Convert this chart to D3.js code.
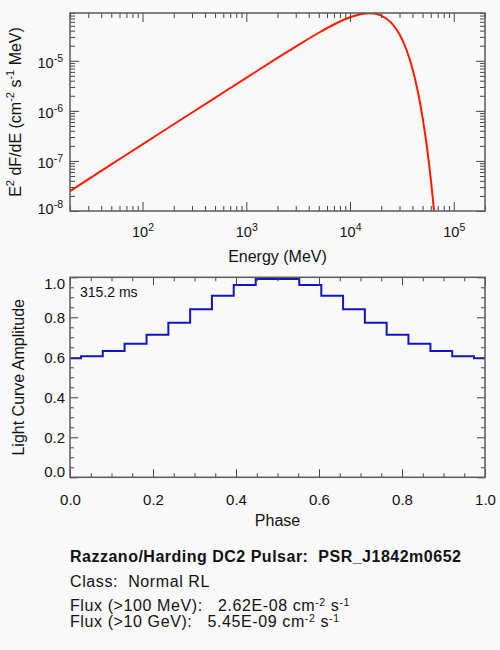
<!DOCTYPE html>
<html>
<head>
<meta charset="utf-8">
<script src="https://cdn.jsdelivr.net/npm/d3@7"></script>
<style>
  body { margin: 0; background: #f9f9f9; }
  text { font-family: "Liberation Sans", Arial, Helvetica, sans-serif; fill: #111; }
</style>
</head>
<body>
<svg id="chart"></svg>
<script>
// Spectrum: E^2 dF/dE
const energy = [20, 50, 100, 200, 500, 1000, 2000, 3000, 5000, 7000, 10000, 13000, 15000,
  17000, 20000, 25000, 30000, 35000, 40000, 45000, 50000, 55000, 60000, 64000, 66000];
const e2dfde = [2.5e-8, 8.5e-8, 2.14e-7, 5.4e-7, 1.82e-6, 4.56e-6, 1.14e-5, 1.92e-5, 3.63e-5,
  5.3e-5, 7.38e-5, 8.62e-5, 8.9e-5, 8.8e-5, 8.0e-5, 5.72e-5, 3.39e-5, 1.66e-5, 6.9e-6,
  2.46e-6, 7.4e-7, 1.95e-7, 4.4e-8, 1.2e-8, 5.9e-9];

const energyTicks = [1e2, 1e3, 1e4, 1e5];
const energyTickExp = ["2", "3", "4", "5"];
const fluxTicks = [1e-8, 1e-7, 1e-6, 1e-5];
const fluxTickExp = ["-8", "-7", "-6", "-5"];
const minorMult = [2, 3, 4, 5, 6, 7, 8, 9];

// Light curve (histogram bins)
const phase = [0.000, 0.053, 0.105, 0.158, 0.211, 0.263, 0.316, 0.368, 0.421, 0.474,
  0.526, 0.579, 0.632, 0.684, 0.737, 0.789, 0.842, 0.895, 0.947, 1.000];
const amplitude = [0.595, 0.605, 0.632, 0.668, 0.713, 0.773, 0.840, 0.908, 0.962, 0.992,
  0.992, 0.962, 0.908, 0.840, 0.773, 0.713, 0.668, 0.632, 0.605, 0.595];

const phaseTicks = [0, 0.2, 0.4, 0.6, 0.8, 1.0];
const ampTicks = [0, 0.2, 0.4, 0.6, 0.8, 1.0];
const periodLabel = "315.2 ms";

const pulsarName = "PSR_J1842m0652";
const pulsarClass = "Normal RL";
const flux100 = "2.62E-08";
const flux10g = "5.45E-09";

const width = 500, height = 650;
const svg = d3.select("#chart").attr("width", width).attr("height", height);
svg.append("rect").attr("width", width).attr("height", height).attr("fill", "#f9f9f9");

const top1 = {l: 70, r: 485, t: 13, b: 211};
const top2 = {l: 70, r: 485, t: 277.3, b: 477.3};

function frame(p) {
  svg.append("rect")
    .attr("x", p.l).attr("y", p.t)
    .attr("width", p.r - p.l).attr("height", p.b - p.t)
    .attr("fill", "none").attr("stroke", "#5a5a5a").attr("stroke-width", 1.5);
}

function styleAxis(g) {
  g.select(".domain").remove();
  g.selectAll(".tick line").attr("stroke", "#444").attr("stroke-width", 1);
  g.selectAll("text").attr("font-family", null).style("fill", "#111");
}

// superscript helper: base text then raised exponent, pixel offsets so it comes back level
function sup(t, txt, size, rise) {
  t.append("tspan").attr("dy", -rise).attr("font-size", size).text(txt);
}
function base(t, txt, rise) {
  t.append("tspan").attr("dy", rise).text(txt);
}

// ---------- spectrum panel ----------
const x1 = d3.scaleLog().domain([20, 2e5]).range([top1.l, top1.r]);
const y1 = d3.scaleLog().domain([1e-8, 9e-5]).range([top1.b, top1.t]);

const xMinor = [10, 100, 1000, 10000, 100000].flatMap(d => minorMult.map(m => m * d))
  .filter(v => v >= 20 && v <= 2e5);
const yMinor = fluxTicks.flatMap(d => minorMult.map(m => m * d)).filter(v => v <= 9e-5);

svg.append("clipPath").attr("id", "clip1").append("rect")
  .attr("x", top1.l).attr("y", top1.t).attr("width", top1.r - top1.l).attr("height", top1.b - top1.t);

svg.append("path")
  .datum(energy.map((e, i) => [e, e2dfde[i]]))
  .attr("clip-path", "url(#clip1)")
  .attr("fill", "none").attr("stroke", "#ff1a00").attr("stroke-width", 2)
  .attr("d", d3.line().x(d => x1(d[0])).y(d => y1(d[1])).curve(d3.curveMonotoneX));

// bottom axis with labels
svg.append("g").attr("transform", `translate(0,${top1.b})`)
  .call(d3.axisBottom(x1).tickValues(energyTicks).tickSize(-9).tickPadding(14).tickFormat(""))
  .call(styleAxis)
  .call(g => g.selectAll(".tick").each(function(d, i) {
    const t = d3.select(this).select("text").attr("font-size", 14.5).attr("dy", "0.85em");
    t.text(null);
    t.append("tspan").text("10");
    sup(t, energyTickExp[i], 10.5, 6);
  }));
svg.append("g").attr("transform", `translate(0,${top1.b})`)
  .call(d3.axisBottom(x1).tickValues(xMinor).tickSize(-5).tickFormat(""))
  .call(styleAxis);
svg.append("g").attr("transform", `translate(0,${top1.t})`)
  .call(d3.axisTop(x1).tickValues(energyTicks).tickSize(-9).tickFormat(""))
  .call(styleAxis);
svg.append("g").attr("transform", `translate(0,${top1.t})`)
  .call(d3.axisTop(x1).tickValues(xMinor).tickSize(-5).tickFormat(""))
  .call(styleAxis);

svg.append("g").attr("transform", `translate(${top1.l},0)`)
  .call(d3.axisLeft(y1).tickValues(fluxTicks).tickSize(-9).tickPadding(7).tickFormat(""))
  .call(styleAxis)
  .call(g => g.selectAll(".tick").each(function(d, i) {
    const t = d3.select(this).select("text").attr("font-size", 14.5)
      .attr("dy", i === 0 ? "0.15em" : "0.45em");
    t.text(null);
    t.append("tspan").text("10");
    sup(t, fluxTickExp[i], 10.5, 6);
  }));
svg.append("g").attr("transform", `translate(${top1.l},0)`)
  .call(d3.axisLeft(y1).tickValues(yMinor).tickSize(-5).tickFormat(""))
  .call(styleAxis);
svg.append("g").attr("transform", `translate(${top1.r},0)`)
  .call(d3.axisRight(y1).tickValues(fluxTicks).tickSize(-9).tickFormat(""))
  .call(styleAxis);
svg.append("g").attr("transform", `translate(${top1.r},0)`)
  .call(d3.axisRight(y1).tickValues(yMinor).tickSize(-5).tickFormat(""))
  .call(styleAxis);
frame(top1);

svg.append("text")
  .attr("x", (top1.l + top1.r) / 2).attr("y", 262)
  .attr("text-anchor", "middle").attr("font-size", 16)
  .text("Energy (MeV)");

const yt = svg.append("text")
  .attr("transform", `translate(21,${(top1.t + top1.b) / 2}) rotate(-90)`)
  .attr("text-anchor", "middle").attr("font-size", 16);
yt.append("tspan").text("E");
sup(yt, "2", 11, 7);
base(yt, " dF/dE (cm", 7);
sup(yt, "-2", 11, 7);
base(yt, " s", 7);
sup(yt, "-1", 11, 7);
base(yt, " MeV)", 7);

// ---------- light curve panel ----------
const x2 = d3.scaleLinear().domain([0, 1]).range([top2.l, top2.r]);
const y2 = d3.scaleLinear().domain([0, 1]).range([top2.b, top2.t]);
const phaseMinor = d3.range(0, 1.0001, 0.05).filter(d => Math.round(d * 100) % 20 !== 0);

svg.append("path")
  .datum(phase.map((p, i) => [p, amplitude[i]]))
  .attr("fill", "none").attr("stroke", "#1414c4").attr("stroke-width", 2)
  .attr("d", d3.line().x(d => x2(d[0])).y(d => y2(d[1])).curve(d3.curveStep));

svg.append("g").attr("transform", `translate(0,${top2.b})`)
  .call(d3.axisBottom(x2).tickValues(phaseTicks).tickSize(-8).tickPadding(17).tickFormat(d3.format(".1f")))
  .call(styleAxis)
  .call(g => g.selectAll("text").attr("font-size", 15));
svg.append("g").attr("transform", `translate(0,${top2.b})`)
  .call(d3.axisBottom(x2).tickValues(phaseMinor).tickSize(-4).tickFormat(""))
  .call(styleAxis);
svg.append("g").attr("transform", `translate(0,${top2.t})`)
  .call(d3.axisTop(x2).tickValues(phaseTicks).tickSize(-8).tickFormat(""))
  .call(styleAxis);
svg.append("g").attr("transform", `translate(0,${top2.t})`)
  .call(d3.axisTop(x2).tickValues(phaseMinor).tickSize(-4).tickFormat(""))
  .call(styleAxis);

svg.append("g").attr("transform", `translate(${top2.l},0)`)
  .call(d3.axisLeft(y2).tickValues(ampTicks).tickSize(-8).tickPadding(5).tickFormat(d3.format(".1f")))
  .call(styleAxis)
  .call(g => g.selectAll("text").attr("font-size", 15)
    .attr("dy", d => d === 0 ? "-0.05em" : d === 1 ? "0.75em" : "0.36em"));
svg.append("g").attr("transform", `translate(${top2.l},0)`)
  .call(d3.axisLeft(y2).tickValues(phaseMinor).tickSize(-4).tickFormat(""))
  .call(styleAxis);
svg.append("g").attr("transform", `translate(${top2.r},0)`)
  .call(d3.axisRight(y2).tickValues(ampTicks).tickSize(-8).tickFormat(""))
  .call(styleAxis);
svg.append("g").attr("transform", `translate(${top2.r},0)`)
  .call(d3.axisRight(y2).tickValues(phaseMinor).tickSize(-4).tickFormat(""))
  .call(styleAxis);
frame(top2);

svg.append("text").attr("x", 80).attr("y", 297).attr("font-size", 14).text(periodLabel);

svg.append("text")
  .attr("x", (top2.l + top2.r) / 2).attr("y", 526)
  .attr("text-anchor", "middle").attr("font-size", 16)
  .text("Phase");

svg.append("text")
  .attr("transform", `translate(24,${(top2.t + top2.b) / 2}) rotate(-90)`)
  .attr("text-anchor", "middle").attr("font-size", 16)
  .text("Light Curve Amplitude");

// ---------- info block ----------
const info = svg.append("g").attr("font-size", 16).attr("letter-spacing", 0.6);
info.append("text").attr("xml:space", "preserve")
  .attr("x", 70).attr("y", 562).attr("font-weight", "bold").attr("letter-spacing", 0.5)
  .text(`Razzano/Harding DC2 Pulsar:  ${pulsarName}`);
info.append("text").attr("xml:space", "preserve").attr("x", 70).attr("y", 587)
  .text(`Class:  ${pulsarClass}`);

function fluxLine(y, label, value) {
  const t = info.append("text").attr("xml:space", "preserve").attr("x", 70).attr("y", y);
  t.append("tspan").text(`${label}:   ${value} cm`);
  sup(t, "-2", 10.5, 5);
  base(t, " s", 5);
  sup(t, "-1", 10.5, 5);
}
fluxLine(611, "Flux (>100 MeV)", flux100);
fluxLine(627, "Flux (>10 GeV)", flux10g);
</script>
</body>
</html>
